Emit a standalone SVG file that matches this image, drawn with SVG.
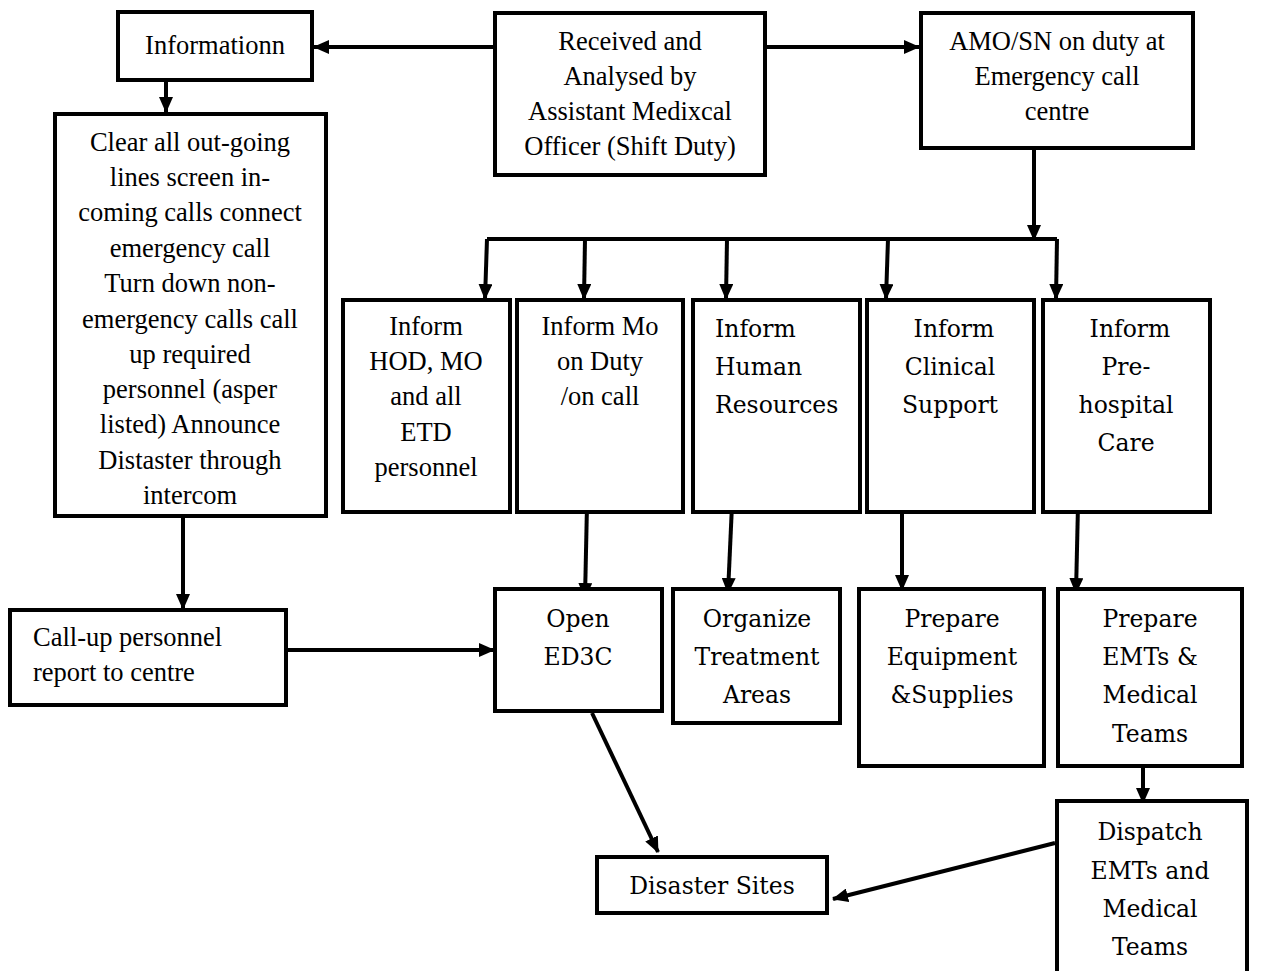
<svg xmlns="http://www.w3.org/2000/svg" width="1269" height="971" viewBox="0 0 1269 971">
<style>
.box{fill:#fff;stroke:#000;stroke-width:4}
.t{font-family:'Liberation Serif','Times New Roman',serif;font-size:26.5px;fill:#000;text-anchor:middle}
.p{font-family:'DejaVu Serif','Liberation Serif',serif;font-size:23.5px;fill:#000;text-anchor:middle}
.l{text-anchor:start}
.c{fill:none;stroke:#000;stroke-width:4}
</style>
<defs>
<marker id="ah" markerUnits="userSpaceOnUse" markerWidth="16" markerHeight="14" refX="15" refY="7" orient="auto">
<path d="M0,0 L16,7 L0,14 Z" fill="#000"/>
</marker>
</defs>
<rect width="1269" height="971" fill="#fff"/>
<g id="connectors">
<path class="c" d="M495,47 L314,47" marker-end="url(#ah)"/>
<path class="c" d="M765,47 L919,47" marker-end="url(#ah)"/>
<path class="c" d="M166,80 L166,112" marker-end="url(#ah)"/>
<path class="c" d="M1034,148 L1034,240" marker-end="url(#ah)"/>
<path class="c" d="M487,239 L1057,239"/>
<path class="c" d="M487,239 L485,299" marker-end="url(#ah)"/>
<path class="c" d="M585,239 L584,299" marker-end="url(#ah)"/>
<path class="c" d="M727,239 L726,299" marker-end="url(#ah)"/>
<path class="c" d="M888,239 L886,299" marker-end="url(#ah)"/>
<path class="c" d="M1057,239 L1056,299" marker-end="url(#ah)"/>
<path class="c" d="M183,516 L183,609" marker-end="url(#ah)"/>
<path class="c" d="M282,650 L494,650" marker-end="url(#ah)"/>
<path class="c" d="M587,505 L585,598" marker-end="url(#ah)"/>
<path class="c" d="M732,505 L728,593" marker-end="url(#ah)"/>
<path class="c" d="M902,505 L902,590" marker-end="url(#ah)"/>
<path class="c" d="M1078,505 L1076,593" marker-end="url(#ah)"/>
<path class="c" d="M1143,766 L1143,803" marker-end="url(#ah)"/>
<path class="c" d="M592,713 L658,852" marker-end="url(#ah)"/>
<path class="c" d="M1055,843 L833,899" marker-end="url(#ah)"/>
</g>
<g id="n-information">
<rect class="box" x="118" y="12" width="194" height="68"/>
<text class="t" x="215" y="54">Informationn</text>
</g>
<g id="n-received">
<rect class="box" x="495" y="13" width="270" height="162"/>
<text class="t" x="630" y="50">Received and</text>
<text class="t" x="630" y="85">Analysed by</text>
<text class="t" x="630" y="120">Assistant Medixcal</text>
<text class="t" x="630" y="155">Officer (Shift Duty)</text>
</g>
<g id="n-amo">
<rect class="box" x="921" y="13" width="272" height="135"/>
<text class="t" x="1057" y="50">AMO/SN on duty at</text>
<text class="t" x="1057" y="85">Emergency call</text>
<text class="t" x="1057" y="120">centre</text>
</g>
<g id="n-clear">
<rect class="box" x="55" y="114" width="271" height="402"/>
<text class="t" x="190" y="151">Clear all out-going</text>
<text class="t" x="190" y="186">lines screen in-</text>
<text class="t" x="190" y="221">coming calls connect</text>
<text class="t" x="190" y="257">emergency call</text>
<text class="t" x="190" y="292">Turn down non-</text>
<text class="t" x="190" y="328">emergency calls call</text>
<text class="t" x="190" y="363">up required</text>
<text class="t" x="190" y="398">personnel (asper</text>
<text class="t" x="190" y="433">listed) Announce</text>
<text class="t" x="190" y="469">Distaster through</text>
<text class="t" x="190" y="504">intercom</text>
</g>
<g id="n-hod">
<rect class="box" x="343" y="300" width="167" height="212"/>
<text class="t" x="426" y="335">Inform</text>
<text class="t" x="426" y="370">HOD, MO</text>
<text class="t" x="426" y="405">and all</text>
<text class="t" x="426" y="441">ETD</text>
<text class="t" x="426" y="476">personnel</text>
</g>
<g id="n-mo">
<rect class="box" x="517" y="300" width="166" height="212"/>
<text class="t" x="600" y="335">Inform Mo</text>
<text class="t" x="600" y="370">on Duty</text>
<text class="t" x="600" y="405">/on call</text>
</g>
<g id="n-hr">
<rect class="box" x="693" y="300" width="167" height="212"/>
<text class="p l" x="715" y="337">Inform</text>
<text class="p l" x="715" y="375">Human</text>
<text class="p l" x="715" y="413">Resources</text>
</g>
<g id="n-clinical">
<rect class="box" x="867" y="300" width="167" height="212"/>
<text class="p" x="954" y="337">Inform</text>
<text class="p" x="950" y="375">Clinical</text>
<text class="p" x="950" y="413">Support</text>
</g>
<g id="n-prehospital">
<rect class="box" x="1043" y="300" width="167" height="212"/>
<text class="p" x="1130" y="337">Inform</text>
<text class="p" x="1126" y="375">Pre-</text>
<text class="p" x="1126" y="413">hospital</text>
<text class="p" x="1126" y="451">Care</text>
</g>
<g id="n-callup">
<rect class="box" x="10" y="610" width="276" height="95"/>
<text class="t l" x="33" y="646">Call-up personnel</text>
<text class="t l" x="33" y="681">report to centre</text>
</g>
<g id="n-open">
<rect class="box" x="495" y="589" width="167" height="122"/>
<text class="p" x="578" y="627">Open</text>
<text class="p" x="578" y="665">ED3C</text>
</g>
<g id="n-organize">
<rect class="box" x="673" y="589" width="167" height="134"/>
<text class="p" x="757" y="627">Organize</text>
<text class="p" x="757" y="665">Treatment</text>
<text class="p" x="757" y="703">Areas</text>
</g>
<g id="n-equipment">
<rect class="box" x="859" y="589" width="185" height="177"/>
<text class="p" x="952" y="627">Prepare</text>
<text class="p" x="952" y="665">Equipment</text>
<text class="p" x="952" y="703">&amp;Supplies</text>
</g>
<g id="n-emts">
<rect class="box" x="1058" y="589" width="184" height="177"/>
<text class="p" x="1150" y="627">Prepare</text>
<text class="p" x="1150" y="665">EMTs &amp;</text>
<text class="p" x="1150" y="703">Medical</text>
<text class="p" x="1150" y="742">Teams</text>
</g>
<g id="n-dispatch">
<rect class="box" x="1057" y="801" width="190" height="180"/>
<text class="p" x="1150" y="840">Dispatch</text>
<text class="p" x="1150" y="879">EMTs and</text>
<text class="p" x="1150" y="917">Medical</text>
<text class="p" x="1150" y="955">Teams</text>
</g>
<g id="n-disaster">
<rect class="box" x="597" y="857" width="230" height="56"/>
<text class="p" x="712" y="894">Disaster Sites</text>
</g>
</svg>
